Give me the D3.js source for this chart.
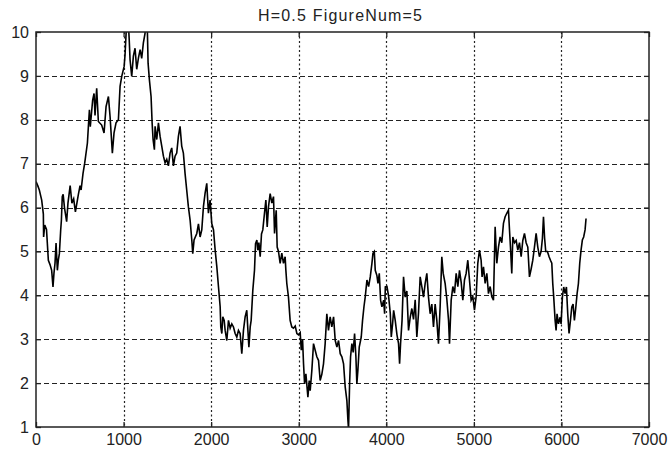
<!DOCTYPE html>
<html>
<head>
<meta charset="utf-8">
<script src="https://cdn.jsdelivr.net/npm/d3@7"></script>
<style>
  body { margin: 0; background: #fff; }
  text { font-family: "Liberation Sans", Arial, sans-serif; fill: #222; }
</style>
</head>
<body>
<div id="chart"></div>
<script>
// sample index (x) and value (y)
const sampleX = [0,20,38,65,84,87,100,120,141,160,179,194,205,217,229,244,255,267,282,290,300,310,325,350,365,390,410,430,450,484,503,515,537,556,587,598,610,620,647,663,674,693,712,750,777,800,827,846,872,891,914,941,960,979,1006,1017,1029,1040,1055,1065,1074,1093,1112,1131,1150,1170,1189,1207,1226,1245,1255,1270,1280,1295,1314,1326,1337,1352,1360,1379,1398,1417,1436,1455,1474,1493,1512,1531,1550,1569,1588,1607,1626,1645,1664,1683,1702,1721,1740,1760,1779,1790,1805,1836,1855,1874,1893,1912,1931,1950,1969,1988,2007,2027,2046,2065,2084,2103,2110,2122,2133,2149,2160,2179,2198,2217,2236,2255,2274,2293,2312,2331,2350,2369,2388,2407,2420,2431,2446,2457,2476,2495,2507,2522,2533,2545,2560,2575,2590,2609,2625,2640,2655,2674,2693,2712,2724,2743,2754,2769,2788,2807,2826,2845,2853,2864,2883,2902,2921,2940,2960,2979,2998,3017,3029,3044,3055,3067,3082,3105,3120,3131,3150,3169,3188,3207,3226,3245,3264,3283,3302,3321,3340,3359,3378,3398,3417,3436,3455,3474,3493,3512,3531,3550,3562,3569,3581,3592,3607,3622,3638,3653,3664,3676,3691,3714,3729,3745,3760,3779,3798,3817,3836,3848,3863,3874,3893,3905,3920,3935,3950,3970,3981,3989,4008,4027,4046,4057,4072,4084,4102,4122,4140,4152,4163,4180,4197,4216,4235,4254,4273,4292,4311,4330,4349,4368,4387,4406,4425,4444,4463,4482,4501,4520,4539,4558,4577,4596,4615,4634,4650,4672,4692,4711,4722,4741,4760,4779,4798,4817,4836,4855,4874,4893,4912,4931,4950,4969,4988,5007,5026,5045,5064,5083,5094,5110,5129,5148,5167,5186,5205,5224,5243,5262,5281,5300,5319,5338,5357,5376,5395,5407,5418,5433,5445,5464,5483,5502,5521,5540,5559,5578,5597,5616,5635,5654,5673,5692,5711,5730,5749,5768,5783,5795,5808,5821,5840,5859,5875,5890,5901,5912,5928,5939,5950,5966,5985,5996,6011,6026,6042,6057,6072,6087,6103,6118,6133,6148,6163,6179,6194,6209,6224,6239,6254,6270,6281];
const sampleY = [6.59,6.5,6.4,6.17,5.85,5.33,5.6,5.5,4.8,4.7,4.57,4.19,4.5,4.73,5.19,4.57,4.8,4.95,5.49,5.71,6.25,6.3,6.0,5.68,6.1,6.5,6.1,6.2,5.9,6.3,6.5,6.4,6.78,7.01,7.47,7.84,8.23,7.84,8.45,8.6,8.1,8.72,7.96,7.88,7.7,8.3,8.53,8.07,7.24,7.7,7.93,8.0,8.76,8.99,9.21,9.48,9.97,10.3,10.2,9.8,9.37,8.99,9.45,9.63,9.15,9.41,9.6,9.4,9.75,9.97,10.3,10.2,9.29,8.91,8.53,7.93,7.55,7.32,7.85,7.55,7.93,7.62,7.4,7.17,7.02,7.1,6.95,7.24,7.36,6.95,7.17,7.24,7.62,7.85,7.4,7.24,6.78,6.4,6.02,5.71,5.26,4.95,5.26,5.41,5.63,5.33,5.49,6.02,6.33,6.55,5.87,6.17,5.64,5.49,5.03,4.65,4.19,3.74,3.28,3.13,3.51,3.43,3.2,2.97,3.43,3.25,3.35,3.28,3.13,3.05,3.2,3.13,2.67,3.2,3.51,3.66,3.2,2.82,3.28,3.43,4.12,4.57,5.18,5.26,5.03,5.2,4.88,5.4,5.49,5.87,6.17,5.56,6.02,6.32,6.1,6.25,5.41,5.94,5.1,5.0,4.73,4.96,4.73,4.88,4.58,4.27,3.96,3.43,3.28,3.25,3.3,3.13,3.1,3.15,2.75,3.0,2.44,1.98,2.21,1.68,2.06,1.83,2.29,2.9,2.75,2.6,2.52,2.06,2.2,2.44,2.9,3.58,3.2,3.51,3.28,3.51,2.97,2.82,2.97,2.67,2.6,2.44,1.91,1.6,1.15,0.95,1.98,2.6,2.9,2.7,3.13,2.6,1.98,2.3,2.82,3.05,3.43,3.74,3.97,4.35,4.2,4.42,4.73,4.96,5.0,4.57,4.45,4.27,4.5,3.89,3.74,3.89,3.58,4.19,4.2,3.97,3.58,3.05,3.35,3.66,3.43,3.1,2.9,2.44,2.9,3.43,4.42,3.96,4.1,3.2,3.5,3.7,3.45,3.9,3.05,3.6,4.42,4.2,3.96,4.27,4.5,3.96,3.58,3.8,3.28,3.8,3.43,2.9,3.74,4.88,4.5,4.27,3.9,3.43,2.9,3.89,4.2,4.05,4.5,4.2,4.57,4.3,3.89,4.35,4.5,4.8,4.35,3.89,3.97,3.66,3.97,4.73,5.03,4.8,4.42,4.65,4.27,4.5,4.04,4.2,3.97,3.89,5.56,4.73,5.1,5.33,5.2,5.64,5.79,5.87,5.94,5.49,5.1,4.5,5.33,5.2,5.25,5.03,5.2,4.88,5.25,5.41,5.2,5.1,4.42,4.6,4.8,5.1,5.41,5.1,4.88,5.0,5.3,5.79,5.3,5.0,5.0,4.88,4.8,4.73,4.27,3.96,3.43,3.2,3.58,3.35,3.5,3.35,3.96,4.19,4.04,4.19,3.58,3.13,3.43,3.73,3.8,3.43,3.7,4.04,4.27,4.73,5.03,5.26,5.33,5.49,5.75];

const xTicks = [0,1000,2000,3000,4000,5000,6000,7000];
const yTicks = [1,2,3,4,5,6,7,8,9,10];
const title = "H=0.5 FigureNum=5";

const width = 668, height = 450;
const margin = {top: 32, right: 19, bottom: 23, left: 36};
const innerW = width - margin.left - margin.right;
const innerH = height - margin.top - margin.bottom;

const svg = d3.select("#chart")
    .append("svg")
    .attr("width", width)
    .attr("height", height);

const x = d3.scaleLinear().domain([0, 7000]).range([0, innerW]);
const y = d3.scaleLinear().domain([1, 10]).range([innerH, 0]);

const g = svg.append("g")
    .attr("transform", `translate(${margin.left},${margin.top})`);

svg.append("defs").append("clipPath")
    .attr("id", "clip")
    .append("rect")
    .attr("width", innerW)
    .attr("height", innerH);

// grid lines
g.selectAll(".hgrid")
    .data(yTicks.slice(1, -1))
    .join("line")
    .attr("x1", 0)
    .attr("x2", innerW)
    .attr("y1", d => Math.round(y(d)) + 0.5)
    .attr("y2", d => Math.round(y(d)) + 0.5)
    .attr("stroke", "#222")
    .attr("stroke-width", 1.2)
    .attr("stroke-dasharray", "5,3");

g.selectAll(".vgrid")
    .data(xTicks.slice(1, -1))
    .join("line")
    .attr("x1", d => Math.round(x(d)) + 0.5)
    .attr("x2", d => Math.round(x(d)) + 0.5)
    .attr("y1", 0)
    .attr("y2", innerH)
    .attr("stroke", "#222")
    .attr("stroke-width", 1.2)
    .attr("stroke-dasharray", "2,2.5");

// the series
const data = sampleX.map((d, i) => [d, sampleY[i]]);
const line = d3.line()
    .x(d => x(d[0]))
    .y(d => y(d[1]));

g.append("path")
    .datum(data)
    .attr("clip-path", "url(#clip)")
    .attr("fill", "none")
    .attr("stroke", "#000")
    .attr("stroke-width", 1.6)
    .attr("d", line);

// box with inward ticks on all sides
const tickLen = 5;
const axisColor = "#222";

g.append("g")
    .attr("transform", `translate(0,${innerH})`)
    .call(d3.axisBottom(x).tickValues(xTicks).tickSizeInner(-tickLen).tickSizeOuter(0).tickPadding(7).tickFormat(d3.format("d")))
    .call(a => a.select(".domain").remove());

g.append("g")
    .call(d3.axisLeft(y).tickValues(yTicks).tickSizeInner(-tickLen).tickSizeOuter(0).tickPadding(7).tickFormat(d3.format("d")))
    .call(a => a.select(".domain").remove());

g.append("g")
    .call(d3.axisTop(x).tickValues(xTicks).tickSizeInner(-tickLen).tickSizeOuter(0).tickFormat(""))
    .call(a => a.select(".domain").remove());

g.append("g")
    .attr("transform", `translate(${innerW},0)`)
    .call(d3.axisRight(y).tickValues(yTicks).tickSizeInner(-tickLen).tickSizeOuter(0).tickFormat(""))
    .call(a => a.select(".domain").remove());

g.selectAll(".tick line").attr("stroke", axisColor).attr("stroke-width", 1.3);
g.selectAll(".tick text")
    .attr("font-size", "16px")
    .attr("font-family", "'Liberation Sans', Arial, sans-serif")
    .attr("fill", "#222");

g.append("rect")
    .attr("width", innerW)
    .attr("height", innerH)
    .attr("fill", "none")
    .attr("stroke", axisColor)
    .attr("stroke-width", 1.5);

svg.append("text")
    .attr("x", 340)
    .attr("y", 21)
    .attr("text-anchor", "middle")
    .attr("font-size", "16px")
    .attr("textLength", 164)
    .attr("lengthAdjust", "spacing")
    .text(title);
</script>
</body>
</html>
